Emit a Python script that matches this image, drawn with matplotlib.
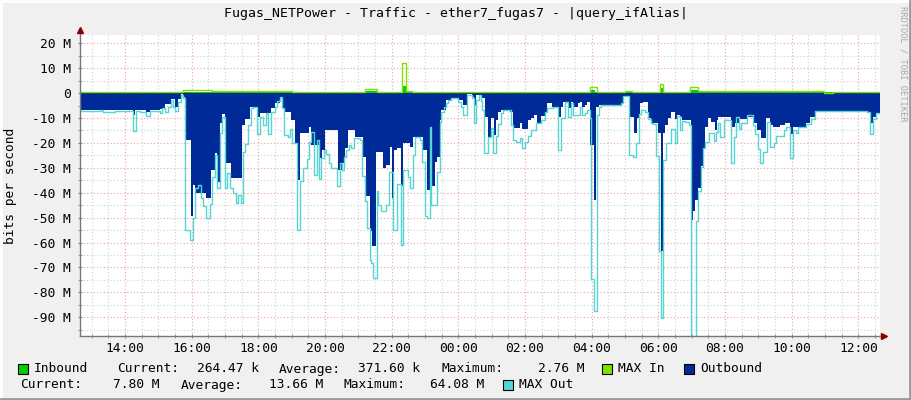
import matplotlib
matplotlib.use("Agg")
import matplotlib.pyplot as plt
from matplotlib.patches import Rectangle
from matplotlib.lines import Line2D

W, H = 911, 400
MONO = "DejaVu Sans Mono"

# time axis in hours (day 1 midnight = 0), 24h window
t_start, t_end = 12.65, 36.65
tick_hours = [14, 16, 18, 20, 22, 24, 26, 28, 30, 32, 34, 36]
tick_labels = ["14:00", "16:00", "18:00", "20:00", "22:00", "00:00",
               "02:00", "04:00", "06:00", "08:00", "10:00", "12:00"]
y_ticks = [20, 10, 0, -10, -20, -30, -40, -50, -60, -70, -80, -90]

# MAX Out (M bits/s, drawn negative), step changes
maxout_t = [12.65, 13.27, 13.34, 13.71, 14.24, 14.34, 14.44, 14.64, 14.74, 15.04,
            15.11, 15.21, 15.29, 15.37, 15.44, 15.51, 15.59, 15.67, 15.75, 15.81,
            15.94, 16.04, 16.11, 16.19, 16.27, 16.34, 16.44, 16.54, 16.61, 16.69,
            16.75, 16.84, 16.91, 16.99, 17.07, 17.15, 17.25, 17.33, 17.39, 17.47,
            17.54, 17.61, 17.69, 17.77, 17.84, 17.97, 18.05, 18.14, 18.24, 18.29,
            18.37, 18.51, 18.57, 18.64, 18.71, 18.77, 18.89, 18.94, 19.02, 19.17,
            19.25, 19.34, 19.46, 19.52, 19.57, 19.67, 19.75, 19.81, 19.89, 19.97,
            20.04, 20.11, 20.19, 20.37, 20.44, 20.51, 20.57, 20.64, 20.71, 20.79,
            20.87, 21.04, 21.12, 21.19, 21.27, 21.34, 21.39, 21.45, 21.55, 21.59,
            21.67, 21.84, 21.91, 22.04, 22.17, 22.27, 22.33, 22.49, 22.54, 22.64,
            22.69, 22.84, 22.91, 22.99, 23.07, 23.14, 23.19, 23.37, 23.44, 23.49,
            23.57, 23.64, 23.69, 23.79, 23.99, 24.07, 24.14, 24.26, 24.41, 24.47,
            24.54, 24.61, 24.67, 24.71, 24.77, 24.89, 24.97, 25.04, 25.12, 25.19,
            25.27, 25.35, 25.57, 25.64, 25.74, 25.84, 25.91, 25.99, 26.09, 26.17,
            26.32, 26.49, 26.59, 26.66, 26.84, 26.99, 27.07, 27.21, 27.29, 27.37,
            27.44, 27.64, 27.71, 27.79, 27.87, 27.94, 27.99, 28.06, 28.16, 28.21,
            28.27, 28.89, 28.94, 29.13, 29.25, 29.34, 29.41, 29.49, 29.61, 29.69,
            29.77, 29.84, 29.94, 30.01, 30.07, 30.14, 30.24, 30.39, 30.51, 30.57,
            30.64, 30.71, 30.79, 30.92, 30.97, 31.14, 31.19, 31.27, 31.34, 31.41,
            31.51, 31.67, 31.74, 31.79, 31.84, 31.97, 32.17, 32.27, 32.34, 32.41,
            32.47, 32.67, 32.84, 32.89, 32.99, 33.04, 33.14, 33.27, 33.34, 33.47,
            33.54, 33.77, 33.84, 33.94, 34.04, 34.12, 34.19, 34.44, 34.57, 34.69,
            36.27, 36.34, 36.44, 36.54]
maxout_v = [-7.1, -6.8, -7.5, -7.1, -15.2, -7.1, -7.5, -9.2, -7.1, -8.1,
            -6.1, -7.5, -5.7, -2.8, -5.5, -7.1, -3.5, -0.8, -2.1, -54.8,
            -59.1, -50.1, -38.1, -36.8, -42.1, -45.5, -50.1, -44.5, -33.5, -24.8,
            -38.1, -16.1, -9.7, -38.1, -32.1, -38.1, -40.1, -44.1, -40.8, -44.1,
            -23.5, -20.4, -12.8, -6.1, -5.5, -16.4, -9.7, -12.8, -8.1, -16.4,
            -7.5, -5.7, -3.1, -1.7, -6.1, -16.8, -17.5, -14.5, -20.1, -54.8,
            -35.1, -30.1, -26.5, -19.5, -15.5, -32.8, -18.8, -34.5, -26.1, -22.8,
            -24.4, -28.1, -30.1, -37.5, -28.1, -30.8, -25.5, -22.8, -20.8, -22.1,
            -18.1, -18.8, -33.2, -43.5, -54.1, -66.8, -68.1, -74.1, -39.5, -44.8,
            -47.5, -44.8, -31.5, -55.1, -36.4, -60.8, -30.8, -33.5, -38.1, -24.8,
            -17.7, -18.8, -27.5, -49.5, -50.1, -13.5, -44.8, -31.5, -11.5, -7.5,
            -5.7, -4.1, -2.8, -2.1, -3.5, -5.7, -8.8, -0.8, -2.1, -12.1,
            -2.8, -0.8, -3.1, -6.8, -24.1, -17.5, -14.1, -24.1, -17.2, -12.4,
            -8.1, -6.8, -12.8, -18.8, -19.5, -18.1, -22.1, -19.5, -17.2, -14.8,
            -12.1, -10.8, -7.5, -6.1, -5.5, -22.8, -10.1, -3.5, -9.7, -4.1,
            -8.8, -5.7, -8.8, -7.9, -6.8, -10.1, -74.5, -87.5, -8.8, -5.5,
            -4.9, -4.1, -1.1, -24.8, -25.7, -20.1, -8.4, -6.8, -7.5, -10.5,
            -11.9, -12.4, -25.2, -63.5, -90.1, -26.8, -20.1, -14.5, -19.9, -9.2,
            -14.8, -11.1, -11.5, -13.0, -99.0, -51.5, -39.5, -29.5, -22.1, -19.5,
            -16.1, -19.1, -15.5, -12.1, -17.7, -10.8, -27.9, -17.7, -9.7, -14.5,
            -12.1, -8.8, -12.8, -16.4, -22.5, -28.1, -23.5, -11.5, -21.7, -20.1,
            -17.2, -14.8, -13.7, -26.1, -14.8, -16.1, -13.5, -12.4, -10.5, -7.3,
            -7.8, -16.4, -10.5, -8.1]

# Outbound average (M bits/s, drawn negative)
out_t = [12.65, 14.24, 14.31, 14.64, 14.74, 15.04, 15.21, 15.37, 15.51, 15.59,
         15.67, 15.75, 15.81, 15.97, 16.04, 16.11, 16.44, 16.59, 16.69, 16.75,
         16.84, 16.91, 16.99, 17.19, 17.39, 17.51, 17.61, 17.74, 17.97, 18.05,
         18.37, 18.51, 18.64, 18.71, 18.79, 18.99, 19.09, 19.17, 19.25, 19.52,
         19.59, 19.84, 19.91, 20.01, 20.39, 20.51, 20.61, 20.69, 20.89, 21.14,
         21.24, 21.34, 21.42, 21.52, 21.75, 21.84, 21.94, 22.01, 22.07, 22.17,
         22.27, 22.34, 22.54, 22.64, 22.94, 23.07, 23.14, 23.22, 23.29, 23.37,
         23.44, 23.49, 23.64, 23.79, 23.99, 24.14, 24.26, 24.41, 24.47, 24.54,
         24.71, 24.79, 24.89, 24.99, 25.06, 25.12, 25.19, 25.29, 25.54, 25.64,
         25.84, 25.91, 26.09, 26.17, 26.27, 26.37, 26.47, 26.59, 26.67, 26.81,
         26.99, 27.07, 27.14, 27.29, 27.37, 27.44, 27.59, 27.64, 27.71, 27.79,
         27.87, 27.94, 28.07, 28.14, 28.21, 28.89, 28.94, 29.11, 29.27, 29.37,
         29.44, 29.53, 29.69, 29.77, 29.99, 30.07, 30.14, 30.21, 30.29, 30.39,
         30.49, 30.57, 30.64, 30.71, 30.97, 31.04, 31.11, 31.19, 31.27, 31.34,
         31.41, 31.49, 31.59, 31.69, 31.77, 31.79, 32.17, 32.31, 32.41, 32.67,
         32.84, 32.97, 33.09, 33.24, 33.34, 33.44, 33.64, 33.79, 33.94, 34.04,
         34.19, 34.44, 34.54, 34.69, 36.19, 36.34, 36.44, 36.54]
out_v = [-6.8, -8.8, -6.8, -7.5, -6.8, -6.5, -4.5, -2.5, -5.5, -2.5,
         -0.5, -1.5, -18.8, -49.5, -37.0, -40.0, -42.0, -31.0, -24.0, -35.5,
         -12.0, -8.5, -28.0, -34.0, -34.1, -12.8, -10.5, -5.5, -9.5, -8.0,
         -6.0, -4.0, -1.5, -6.0, -7.5, -10.8, -20.0, -34.8, -16.1, -13.5,
         -20.8, -26.1, -22.8, -14.8, -30.8, -28.1, -22.0, -14.8, -17.5, -25.5,
         -41.5, -55.5, -61.5, -23.5, -30.1, -28.8, -21.5, -42.1, -22.8, -22.1,
         -37.5, -20.1, -21.5, -17.5, -22.8, -38.8, -20.8, -37.5, -27.5, -25.5,
         -10.8, -6.8, -2.8, -2.1, -2.8, -4.8, -0.4, -1.5, -4.8, -0.8,
         -2.0, -9.5, -17.5, -10.1, -16.8, -10.8, -7.5, -6.8, -7.5, -14.1,
         -12.1, -14.5, -10.8, -10.1, -8.8, -12.4, -9.2, -7.5, -4.1, -5.5,
         -9.7, -5.5, -3.5, -6.1, -3.5, -5.5, -4.1, -3.5, -5.7, -4.8,
         -3.5, -20.8, -42.8, -5.5, -4.9, -4.1, -1.2, -9.7, -16.1, -10.1,
         -4.1, -3.5, -10.1, -11.9, -16.1, -63.5, -16.1, -12.8, -10.1, -7.5,
         -10.5, -8.8, -9.7, -10.8, -50.8, -47.5, -42.8, -38.1, -29.2, -22.1,
         -13.5, -10.1, -11.5, -14.8, -10.8, -9.7, -13.5, -12.1, -10.5, -9.5,
         -11.9, -14.8, -18.1, -10.1, -12.8, -13.5, -12.8, -12.1, -16.4, -13.8,
         -13.5, -12.1, -9.7, -7.1, -7.8, -11.9, -9.5, -8.1]

# Inbound average and MAX In (M bits/s)
in_t = [12.65, 15.80, 16.60, 19.00, 21.20, 21.55, 22.30, 22.42, 22.60,
        27.98, 28.10, 30.05, 30.15, 30.95, 31.20]
in_v = [0.25, 0.5, 0.4, 0.3, 0.9, 0.4, 2.76, 0.4, 0.3,
        1.2, 0.3, 1.9, 0.5, 1.2, 0.3]
maxin_t = [12.65, 15.75, 16.60, 19.00, 21.20, 21.55, 22.30, 22.42, 22.60,
           27.95, 28.16, 29.00, 29.20, 30.05, 30.14, 30.95, 31.19, 34.97, 35.24]
maxin_v = [0.5, 1.2, 0.8, 0.5, 1.5, 0.6, 11.9, 0.8, 0.6,
           2.5, 0.5, 0.8, 0.6, 3.6, 0.6, 2.3, 0.7, 0.0, 0.6]

C_IN, C_MAXIN = "#00CF00", "#80E000"
C_OUT, C_MAXOUT = "#002A97", "#55D6D3"


def ext(t, v):
    return list(t) + [t_end], list(v) + [v[-1]]


def px(x, y):
    return x / W, 1 - y / H


fig = plt.figure(figsize=(W / 100, H / 100), dpi=100, facecolor="#F0F0F0")
ax = fig.add_axes([80 / W, (H - 336) / H, 800 / W, 301 / H])
ax.set_facecolor("white")

t, v = ext(in_t, in_v)
ax.fill_between(t, 0, v, step="post", color=C_IN, lw=0)
t, v = ext(maxin_t, maxin_v)
ax.step(t, v, where="post", color=C_MAXIN, lw=1.0)
t, v = ext(out_t, out_v)
ax.fill_between(t, 0, v, step="post", color=C_OUT, lw=0)
t, v = ext(maxout_t, maxout_v)
ax.step(t, v, where="post", color=C_MAXOUT, lw=1.0)

ax.set_xlim(t_start, t_end)
ax.set_ylim(-97.5, 23.3)
ax.set_xticks(tick_hours)
ax.set_xticklabels(tick_labels)
ax.set_xticks([h / 2 for h in range(26, 74)], minor=True)
ax.set_yticks(y_ticks)
ax.set_yticklabels([f"{y} M" if y else "0" for y in y_ticks])
ax.set_yticks(list(range(-95, 25, 5)), minor=True)
ax.grid(which="minor", color="#D0D0D0", ls=(0, (1, 2)), lw=0.8)
ax.grid(which="major", color="#EFA0A0", ls=(0, (1, 2)), lw=0.8)
ax.set_axisbelow(True)
for lab in ax.get_xticklabels() + ax.get_yticklabels():
    lab.set_family(MONO)
    lab.set_fontsize(9.3)
ax.tick_params(which="both", direction="inout", color="#888888", length=3, pad=3)
ax.tick_params(axis="y", pad=5)
for s in ["top", "right"]:
    ax.spines[s].set_visible(False)
for s in ["left", "bottom"]:
    ax.spines[s].set_color("#777777")
    ax.spines[s].set_linewidth(1.0)

# axis arrows
ax.plot([0, 0], [1, 1.012], transform=ax.transAxes, color="#777777", lw=1, clip_on=False)
ax.plot([1, 1.004], [0, 0], transform=ax.transAxes, color="#777777", lw=1, clip_on=False)
ax.plot(0, 1.015, marker="^", ms=5, color="#8B0000", transform=ax.transAxes, clip_on=False)
ax.plot(1.005, 0, marker=">", ms=5, color="#8B0000", transform=ax.transAxes, clip_on=False)

fig.text(*px(456, 14), "Fugas_NETPower - Traffic - ether7_fugas7 - |query_ifAlias|",
         family=MONO, fontsize=9.5, ha="center", va="center")
fig.text(*px(11, 186), "bits per second", family=MONO, fontsize=9.3,
         rotation=90, ha="center", va="center")
fig.text(*px(903, 6), "RRDTOOL / TOBI OETIKER", family=MONO, fontsize=6.2,
         color="#A8A8A8", rotation=270, ha="center", va="top")

# legend rows
row1 = [(34, "Inbound"), (117, "Current:"), (197, "264.47 k"), (279, "Average:"),
        (358, "371.60 k"), (442, "Maximum:"), (538, "2.76 M"), (618, "MAX In"),
        (700, "Outbound")]
row2 = [(20, "Current:"), (113, "7.80 M"), (181, "Average:"), (269, "13.66 M"),
        (343, "Maximum:"), (430, "64.08 M"), (519, "MAX Out")]
for x, s in row1:
    fig.text(*px(x, 369), s, family=MONO, fontsize=9.3, ha="left", va="center")
for x, s in row2:
    fig.text(*px(x, 385), s, family=MONO, fontsize=9.3, ha="left", va="center")
for x, y, c in [(18, 369, C_IN), (602, 369, C_MAXIN), (684, 369, C_OUT), (503, 385, C_MAXOUT)]:
    fig.patches.append(Rectangle(px(x, y + 5), 10 / W, 10 / H, transform=fig.transFigure,
                                 facecolor=c, edgecolor="black", lw=0.8))

# 3d frame: light top/left, dark bottom/right
for xs, ys, c in [([0.5, 0.5, W - 0.5], [H - 0.5, 0.5, 0.5], "#FFFFFF"),
                  ([0.5, W - 1, W - 1], [H - 1, H - 1, 0.5], "#9A9A9A")]:
    fig.lines.append(Line2D([x / W for x in xs], [1 - y / H for y in ys],
                            transform=fig.transFigure, color=c, lw=2))

fig.savefig("out.png", dpi=100, facecolor=fig.get_facecolor())
